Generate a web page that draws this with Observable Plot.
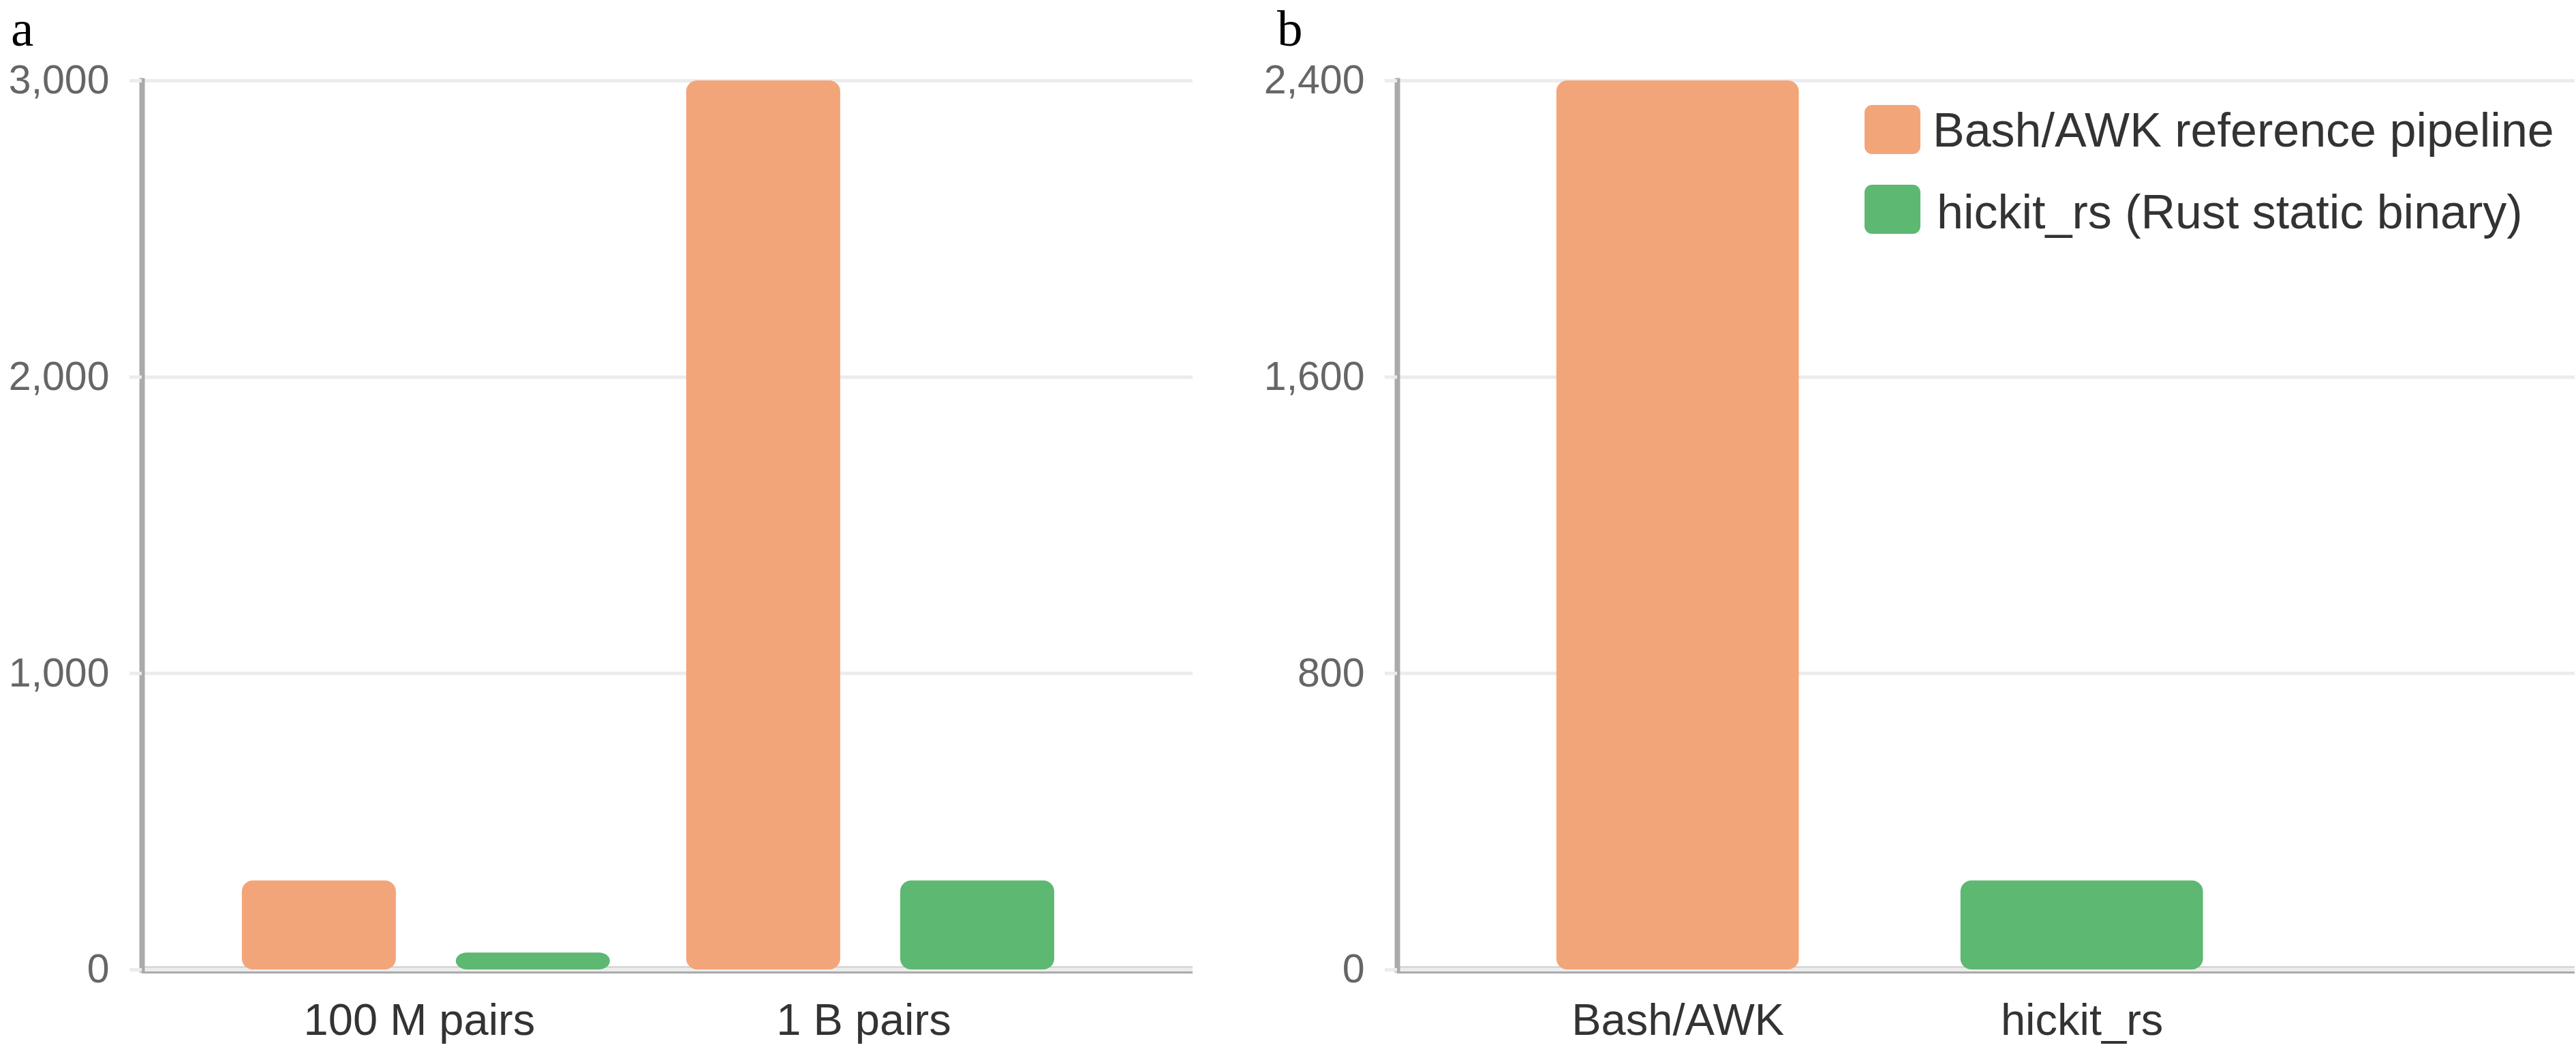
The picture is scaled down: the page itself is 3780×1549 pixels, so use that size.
<!DOCTYPE html>
<html>
<head>
<meta charset="utf-8">
<script src="https://cdn.jsdelivr.net/npm/d3@7"></script>
<script src="https://cdn.jsdelivr.net/npm/@observablehq/plot@0.6"></script>
<style>
  html, body { margin: 0; padding: 0; background: #fff; }
  #wrap { position: relative; width: 3780px; height: 1549px; overflow: hidden; background: #fff; }
  .panel { position: absolute; top: 0; }
  .plabel { position: absolute; top: 0px; font-family: "Liberation Serif", "Times New Roman", serif; font-size: 75px; line-height: 83px; color: #000; }
  .lg-sw { position: absolute; width: 82px; height: 72px; border-radius: 11px; }
  .lg-tx { position: absolute; font-family: "Liberation Sans", Arial, sans-serif; font-size: 70px; line-height: 70px; color: #333; white-space: nowrap; }
</style>
</head>
<body>
<div id="wrap">
  <div id="pa" class="panel" style="left:0px"></div>
  <div id="pb" class="panel" style="left:1890px"></div>
  <div class="plabel" style="left:16px">a</div>
  <div class="plabel" style="left:1874px">b</div>
</div>
<script>
// ---- data ----
const seriesNames = ["Bash/AWK reference pipeline", "hickit_rs (Rust static binary)"];
const seriesColors = ["#F3A57A", "#5DB871"];

const groupsA = ["100 M pairs", "1 B pairs"];
const bashA = [300, 3000];
const rustA = [57, 300];
const ticksA = [0, 1000, 2000, 3000];

const toolsB = ["Bash/AWK", "hickit_rs"];
const valuesB = [2400, 240];
const ticksB = [0, 800, 1600, 2400];

// ---- tables built from the arrays ----
const dataA = groupsA.map((g, i) => ({group: g, bash: bashA[i], rust: rustA[i]}));
const dataB = toolsB.map((t, i) => ({tool: t, value: valuesB[i], series: seriesNames[i]}));

const fmt = d3.format(",");
const gridColor = "#ececec";
const axisColor = "#aaaaaa";
const font = "'Liberation Sans', Arial, sans-serif";

function commonMarks(ticks) {
  return [
    Plot.ruleY(ticks, {stroke: gridColor, strokeWidth: 5}),
    Plot.ruleY([0], {stroke: "#c8c8c8", strokeWidth: 2, dy: -4}),
    Plot.ruleY([0], {stroke: axisColor, strokeWidth: 3, dy: 4})
  ];
}
function axisMarks(ticks, xdx) {
  return [
    Plot.frame({anchor: "left", stroke: axisColor, strokeWidth: 8}),
    Plot.axisY(ticks, {tickSize: 18, stroke: gridColor, strokeWidth: 5, tickPadding: 30,
      fontSize: 59, fill: "#666", tickFormat: fmt, label: null}),
    Plot.axisX({tickSize: 0, tickPadding: 49, fontSize: 65, fill: "#333", dx: xdx, label: null})
  ];
}

const plotA = Plot.plot({
  width: 1890, height: 1549,
  marginTop: 118, marginBottom: 127, marginLeft: 208, marginRight: 140,
  style: {fontFamily: font, background: "transparent", overflow: "visible"},
  x: {domain: groupsA, paddingInner: 0, paddingOuter: 0.1825, align: 0.382, round: false, label: null},
  y: {domain: [0, 3000], label: null},
  marks: [
    ...commonMarks(ticksA),
    Plot.barY(dataA, {x: "group", y: "bash", fill: seriesColors[0], insetLeft: 56, insetRight: 370, rx: 16}),
    Plot.barY(dataA, {x: "group", y: "rust", fill: seriesColors[1], insetLeft: 370, insetRight: 56, rx: 16}),
    ...axisMarks(ticksA, -10)
  ]
});
document.getElementById("pa").appendChild(plotA);

const plotB = Plot.plot({
  width: 1890, height: 1549,
  marginTop: 118, marginBottom: 127, marginLeft: 160, marginRight: 2,
  style: {fontFamily: font, background: "transparent", overflow: "visible"},
  x: {domain: toolsB, paddingInner: 0.4, paddingOuter: 0.657, align: 0.30, round: false, label: null},
  y: {domain: [0, 2400], label: null},
  color: {domain: seriesNames, range: seriesColors},
  marks: [
    ...commonMarks(ticksB),
    Plot.barY(dataB, {x: "tool", y: "value", fill: "series", rx: 16}),
    ...axisMarks(ticksB, 0)
  ]
});
document.getElementById("pb").appendChild(plotB);

// ---- legend ----
const wrap = d3.select("#wrap");
seriesNames.forEach((name, i) => {
  wrap.append("div").attr("class", "lg-sw")
    .style("left", "2736px").style("top", (154 + i * 117) + "px")
    .style("background", seriesColors[i]);
  wrap.append("div").attr("class", "lg-tx")
    .style("left", (2836 + i * 6) + "px").style("top", (156 + i * 120) + "px")
    .text(name);
});
</script>
</body>
</html>
